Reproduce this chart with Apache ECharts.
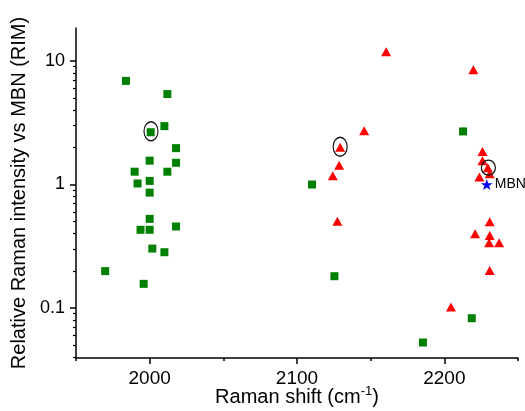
<!DOCTYPE html>
<html>
<head>
<meta charset="utf-8">
<script src="https://cdn.jsdelivr.net/npm/echarts@6/dist/echarts.min.js"></script>
<style>
html,body{margin:0;padding:0;background:#fff;}
#chart{width:525px;height:411px;}
</style>
</head>
<body>
<div id="chart"></div>
<script>
// ---- data (Raman shift in cm-1, relative intensity RIM) ----
var greenSquares = [
  [1983.9, 6.9], [2012.0, 5.4], [2010.0, 2.97], [2000.7, 2.65], [2017.9, 1.97],
  [2000.0, 1.56], [2017.9, 1.50], [1989.8, 1.27], [2012.0, 1.27], [2000.0, 1.07],
  [1991.8, 1.02], [2000.0, 0.86], [2000.0, 0.527], [1993.8, 0.43], [2000.0, 0.43],
  [2017.9, 0.457], [2001.8, 0.303], [2010.0, 0.283], [1969.8, 0.199], [1995.9, 0.157],
  [2110.2, 1.0], [2125.4, 0.181], [2212.7, 2.69], [2218.6, 0.0827], [2185.5, 0.0526]
];
var redTriangles = [
  [2160.5, 11.9], [2145.6, 2.72], [2129.3, 2.0], [2128.6, 1.43], [2124.3, 1.18],
  [2127.4, 0.505], [2219.7, 8.49], [2225.9, 1.85], [2225.9, 1.56], [2229.5, 1.37],
  [2230.8, 1.22], [2223.8, 1.15], [2230.8, 0.50], [2220.9, 0.40], [2230.8, 0.386],
  [2230.4, 0.337], [2237.2, 0.337], [2230.8, 0.201], [2204.5, 0.102]
];
var mbnPoint = [[2228.8, 1.0]];
var mbnLabel = 'MBN';
var circledPoints = [[2000.9, 2.7], [2129.3, 2.02], [2229.9, 1.37]];

var xMajorTicks = [2000, 2100, 2200];
var xMinorTicks = [1950, 2050, 2150, 2250];
var yMajorTicks = [0.1, 1, 10];
var yMinorTicks = [0.04, 0.05, 0.06, 0.07, 0.08, 0.09,
                   0.2, 0.3, 0.4, 0.5, 0.6, 0.7, 0.8, 0.9,
                   2, 3, 4, 5, 6, 7, 8, 9];
var xTitle = '{a|Raman shift (cm}{sup|-1}{a|)}';
var yTitle = 'Relative Raman intensity vs MBN (RIM)';

var FONT = '"Liberation Sans", Arial, sans-serif';
var starPath = 'path://M50,0L61.23,34.55L97.55,34.55L68.17,55.9L79.39,90.45L50,69.1L20.61,90.45L31.83,55.9L2.45,34.55L38.77,34.55Z';

var chart = echarts.init(document.getElementById('chart'), null, {renderer: 'canvas'});
var xMin = 1950, xMax = 2250, yMin = 0.0394, yMax = 18.5;
var axisLineStyle = {color: '#000', width: 1.5};

chart.setOption({
  animation: false,
  backgroundColor: '#fff',
  grid: {left: 76, right: 7, top: 28, bottom: 53, containLabel: false, outerBoundsMode: 'none'},
  xAxis: [{
    type: 'value', min: xMin, max: xMax, position: 'bottom',
    axisLine: {show: true, onZero: false, lineStyle: axisLineStyle},
    axisTick: {show: true, inside: false, length: 3, customValues: xMinorTicks, lineStyle: {color: '#000', width: 1.5}},
    axisLabel: {customValues: xMajorTicks, fontSize: 19, fontFamily: FONT, color: '#000', margin: 11,
      formatter: function (v) { return String(v); }},
    splitLine: {show: false},
    name: xTitle, nameLocation: 'middle', nameGap: 27, nameMoveOverlap: false,
    nameTextStyle: {
      fontFamily: FONT, color: '#000', fontSize: 20,
      rich: {
        a: {fontSize: 20, fontFamily: FONT, color: '#000', lineHeight: 24},
        sup: {fontSize: 13, fontFamily: FONT, color: '#000', lineHeight: 14, verticalAlign: 'top'}
      }
    }
  }, {
    type: 'value', min: xMin, max: xMax, position: 'bottom',
    axisLine: {show: false, onZero: false},
    axisTick: {show: true, inside: false, length: 6, customValues: xMajorTicks, lineStyle: {color: '#000', width: 1.5}},
    axisLabel: {show: false},
    splitLine: {show: false}
  }],
  yAxis: [{
    type: 'log', logBase: 10, min: yMin, max: yMax, position: 'left',
    axisLine: {show: true, onZero: false, lineStyle: axisLineStyle},
    axisTick: {show: true, inside: false, length: 3, customValues: yMinorTicks, lineStyle: {color: '#000', width: 1.2}},
    axisLabel: {customValues: yMajorTicks, fontSize: 18, fontFamily: FONT, color: '#000', margin: 11,
      formatter: function (v) { return String(+(+v).toPrecision(3)); }},
    splitLine: {show: false},
    name: yTitle, nameLocation: 'middle', nameGap: 42,
    nameTextStyle: {fontFamily: FONT, color: '#000', fontSize: 20}
  }, {
    type: 'log', logBase: 10, min: yMin, max: yMax, position: 'left',
    axisLine: {show: false, onZero: false},
    axisTick: {show: true, inside: false, length: 6, customValues: yMajorTicks, lineStyle: {color: '#000', width: 1.5}},
    axisLabel: {show: false},
    splitLine: {show: false}
  }],
  series: [{
    type: 'scatter', name: 'green', data: greenSquares,
    symbol: 'rect', symbolSize: 8,
    itemStyle: {color: '#008000', opacity: 1},
    z: 3
  }, {
    type: 'scatter', name: 'red', data: redTriangles,
    symbol: 'triangle', symbolSize: [10, 9],
    itemStyle: {color: '#ff0000', opacity: 1},
    z: 3
  }, {
    type: 'scatter', name: 'MBN', data: mbnPoint,
    symbol: starPath, symbolSize: [12, 11],
    itemStyle: {color: '#0000ff', opacity: 1},
    label: {show: true, position: 'right', distance: 2, formatter: mbnLabel,
      fontSize: 14, fontFamily: FONT, color: '#000'},
    z: 4
  }, {
    type: 'scatter', name: 'circled', data: circledPoints,
    symbol: 'circle',
    symbolSize: function (v, p) { return p.dataIndex === 2 ? [14, 15] : [14, 19]; },
    itemStyle: {color: 'rgba(0,0,0,0)', borderColor: '#111', borderWidth: 1.3, opacity: 1},
    z: 5
  }]
});
</script>
</body>
</html>
